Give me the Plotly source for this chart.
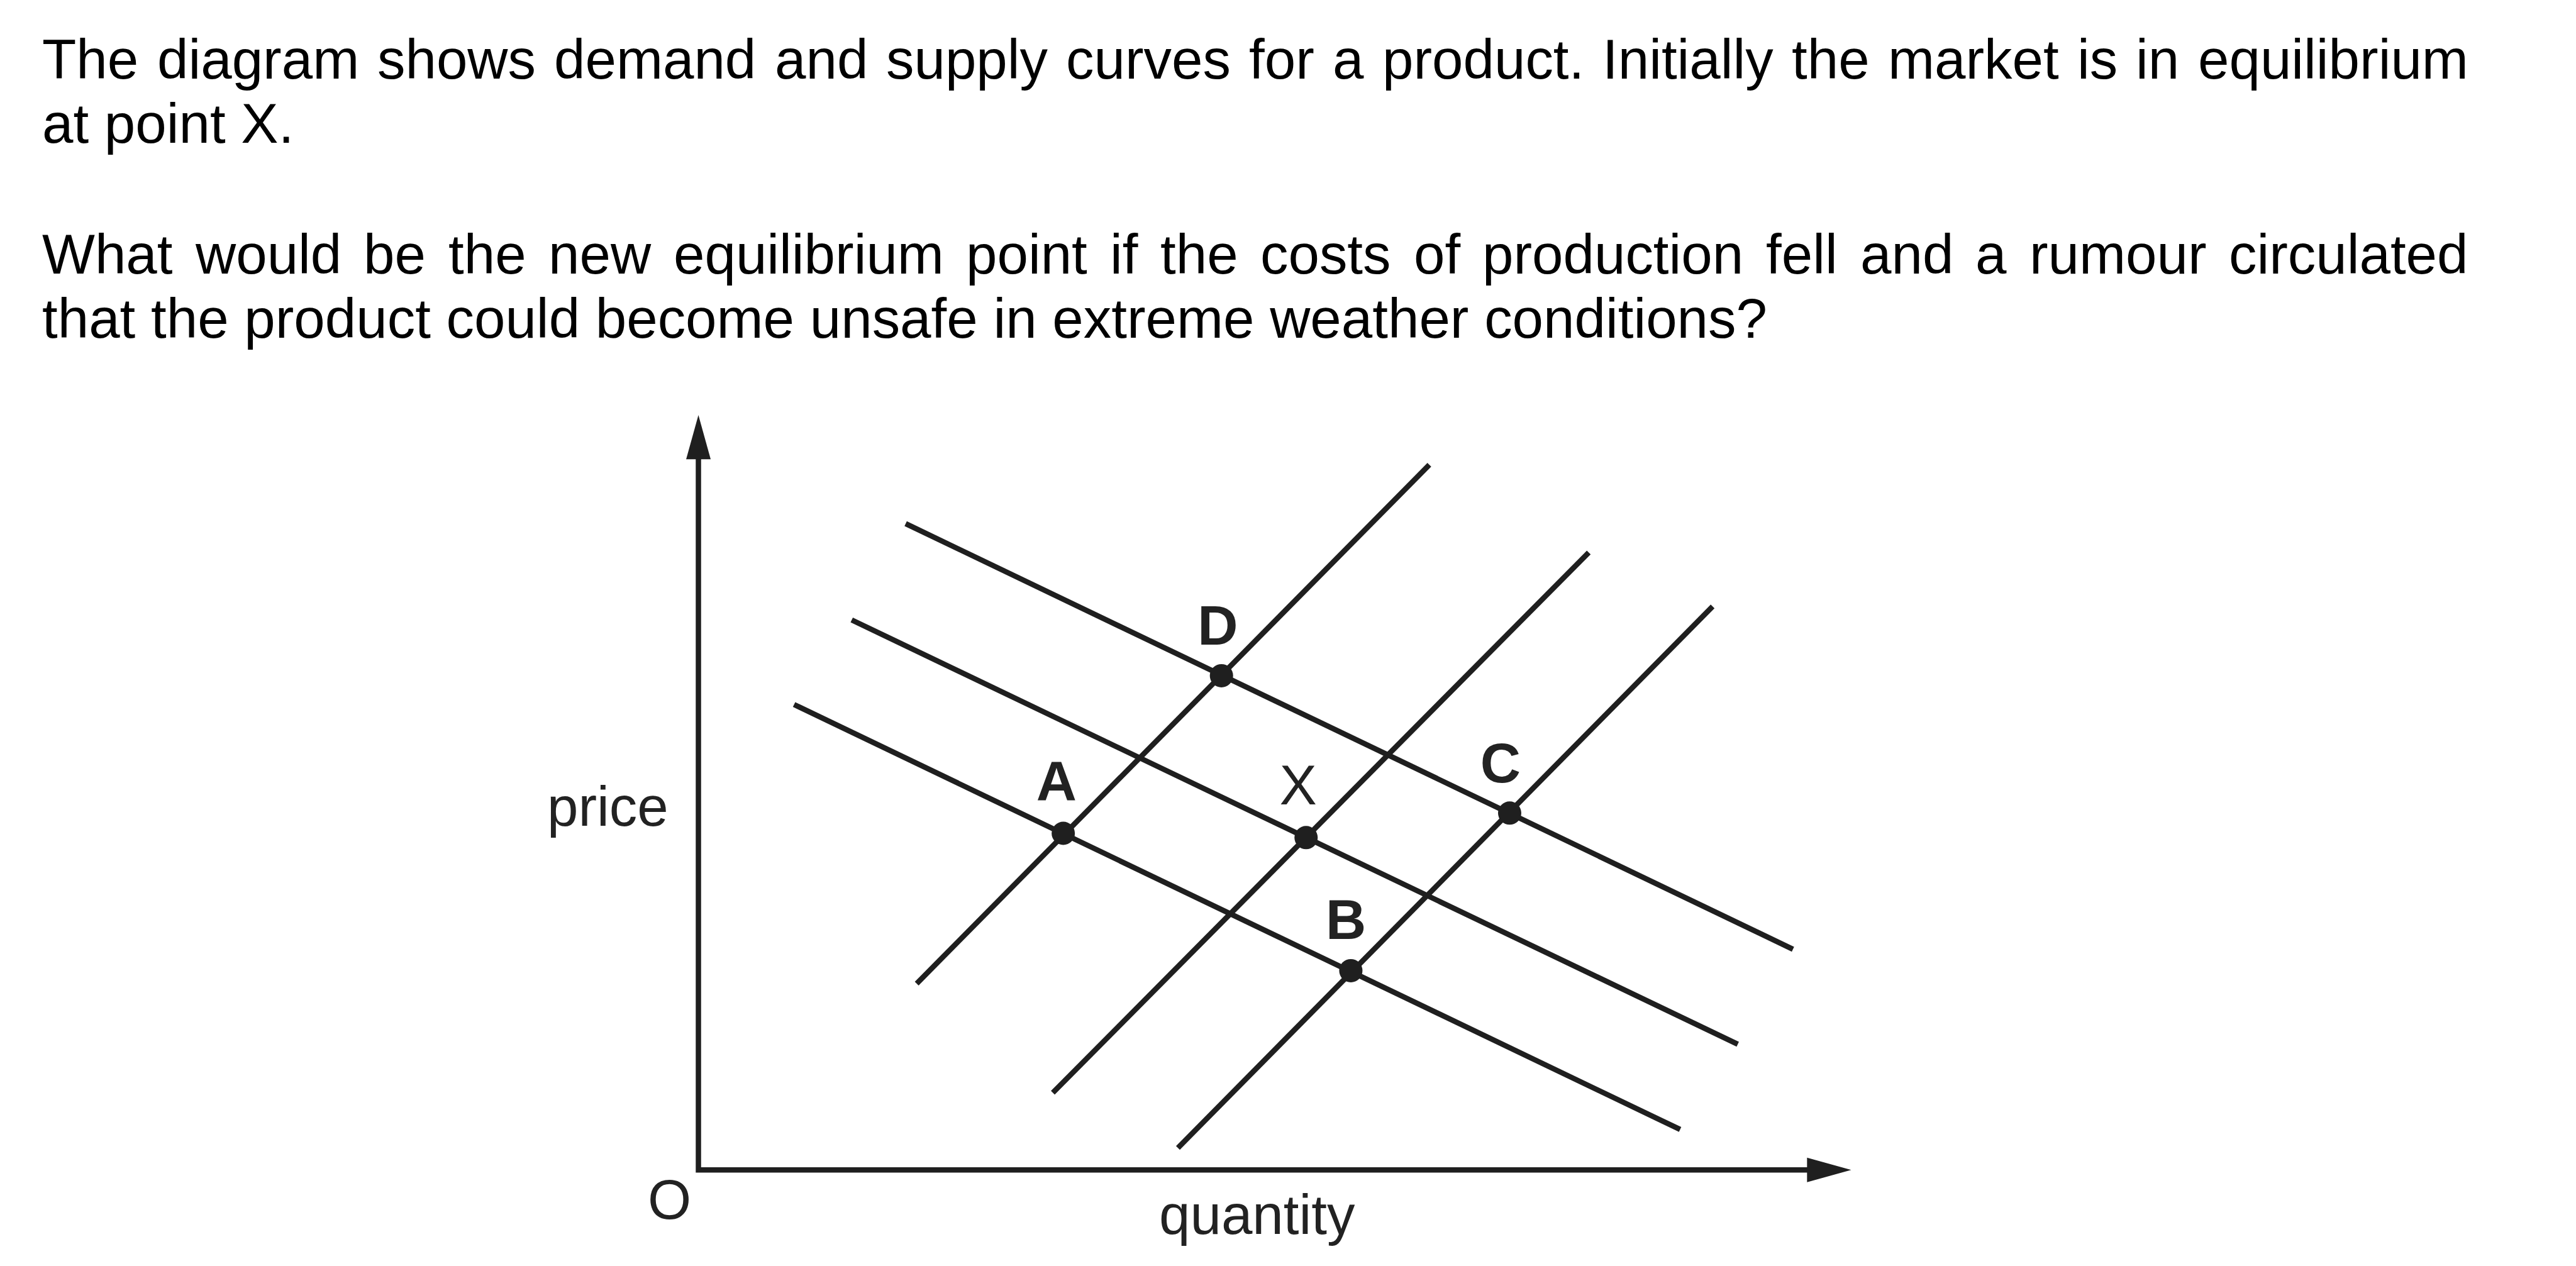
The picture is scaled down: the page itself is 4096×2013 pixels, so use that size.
import plotly.graph_objects as go

# ---------------- data (quantity / price units, origin at the axes corner) ----------------
demand_q = [[33.8, 178.5], [25.0, 169.5], [15.6, 160.1]]
demand_p = [[105.4, 36.0], [89.7, 20.5], [75.9, 6.6]]
supply_q = [[35.6, 119.2], [57.8, 145.2], [78.2, 165.4]]
supply_p = [[30.4, 115.0], [12.6, 100.7], [3.6, 91.9]]

point_labels = ["A", "D", "X", "B", "C"]
point_q = [59.5, 85.3, 99.1, 106.4, 132.3]
point_p = [54.9, 80.6, 54.2, 32.5, 58.2]
label_q = [58.4, 84.7, 97.8, 105.6, 130.8]
label_p = [62.5, 88.0, 61.85, 40.0, 65.5]
label_bold = [True, True, False, True, True]

axis_q_max = 188.0
axis_p_max = 123.1

question_lines = [
    "The diagram shows demand and supply curves for a product. Initially the market is in equilibrium",
    "at point X.",
    "What would be the new equilibrium point if the costs of production fell and a rumour circulated",
    "that the product could become unsafe in extreme weather conditions?",
]
question_justified = [True, False, True, False]

# ---------------- geometry / style ----------------
W, H = 4096, 2013
S = 0.975
K = 10 * S                      # px per data unit
X0, Y0 = 1139 * S, 1908 * S     # origin pixel position
FS = 91.2 * S
FONT = "Liberation Sans, Arial, sans-serif"
LINE_COL = "#1f1f1f"
LW = 8.5
AXW = 8.5

xr = [-X0 / K, (W - X0) / K]
yr = [-(H - Y0) / K, Y0 / K]

fig = go.Figure()

# demand & supply curves
for qs, ps in zip(demand_q + supply_q, demand_p + supply_p):
    fig.add_trace(go.Scatter(x=qs, y=ps, mode="lines",
                             line=dict(color=LINE_COL, width=LW),
                             hoverinfo="skip", showlegend=False))

# axes (lines + arrowheads)
head_len, head_half = 7.2, 2.0
fig.add_trace(go.Scatter(x=[0, 0, axis_q_max - head_len + 0.5],
                         y=[axis_p_max - head_len + 0.5, 0, 0], mode="lines",
                         line=dict(color=LINE_COL, width=AXW),
                         hoverinfo="skip", showlegend=False))
fig.add_shape(type="path", xref="x", yref="y",
              path=f"M {-head_half},{axis_p_max - head_len} L 0,{axis_p_max} L {head_half},{axis_p_max - head_len} Z",
              fillcolor=LINE_COL, line=dict(width=0))
fig.add_shape(type="path", xref="x", yref="y",
              path=f"M {axis_q_max - head_len},{-head_half} L {axis_q_max},0 L {axis_q_max - head_len},{head_half} Z",
              fillcolor=LINE_COL, line=dict(width=0))

# equilibrium points
fig.add_trace(go.Scatter(x=point_q, y=point_p, mode="markers",
                         marker=dict(size=37, color=LINE_COL, line=dict(width=0)),
                         hoverinfo="skip", showlegend=False))

# point labels
fig.add_trace(go.Scatter(x=label_q, y=label_p, mode="text",
                         text=[f"<b>{t}</b>" if b else t for t, b in zip(point_labels, label_bold)],
                         textposition="middle center",
                         textfont=dict(family=FONT, size=FS, color="#222222"),
                         hoverinfo="skip", showlegend=False))

# axis labels
def add_label(text, q, p, xanchor):
    fig.add_annotation(x=q, y=p, xref="x", yref="y", text=text, showarrow=False,
                       xanchor=xanchor, yanchor="middle", borderpad=0, borderwidth=0,
                       font=dict(family=FONT, size=FS, color="#222222"))

add_label("price", -4.9, 59.3, "right")
add_label("O", -4.7, -4.86, "center")
add_label("quantity", 91.1, -7.26, "center")

# ---------------- question text ----------------
ARIAL = {
    ' ': 278, 'a': 556, 'b': 556, 'c': 500, 'd': 556, 'e': 556, 'f': 278, 'g': 556, 'h': 556,
    'i': 222, 'j': 222, 'k': 500, 'l': 222, 'm': 833, 'n': 556, 'o': 556, 'p': 556, 'q': 556,
    'r': 333, 's': 500, 't': 278, 'u': 556, 'v': 500, 'w': 722, 'x': 500, 'y': 500, 'z': 500,
    'I': 278, 'T': 611, 'W': 944, 'X': 667, '.': 278, '?': 556, ',': 278,
}

def text_w(s):
    return sum(ARIAL.get(ch, 556) for ch in s) / 1000.0 * FS

baselines = [129, 233, 446, 551]
left_px = 69 * S
right_px = 4025 * S
for line, base, just in zip(question_lines, baselines, question_justified):
    cy = base * S - 0.3465 * FS
    if not just:
        fig.add_annotation(x=left_px / W, y=1 - cy / H, xref="paper", yref="paper",
                           text=line, showarrow=False, xanchor="left", yanchor="middle",
                           borderpad=0, borderwidth=0,
                           font=dict(family=FONT, size=FS, color="#000000"))
        continue
    words = line.split(" ")
    ww = [text_w(w) for w in words]
    gap = (right_px - left_px - sum(ww)) / (len(words) - 1)
    x = left_px
    for w, wdt in zip(words, ww):
        fig.add_annotation(x=x / W, y=1 - cy / H, xref="paper", yref="paper",
                           text=w, showarrow=False, xanchor="left", yanchor="middle",
                           borderpad=0, borderwidth=0,
                           font=dict(family=FONT, size=FS, color="#000000"))
        x += wdt + gap

fig.update_layout(
    width=W, height=H, autosize=False,
    margin=dict(l=0, r=0, t=0, b=0, pad=0),
    paper_bgcolor="white", plot_bgcolor="white",
    xaxis=dict(range=xr, visible=False, fixedrange=True),
    yaxis=dict(range=yr, visible=False, fixedrange=True),
    showlegend=False,
)

fig.write_html("out.html", include_plotlyjs=True, config={"displayModeBar": False},
               post_script="document.body.style.margin='0';document.body.style.overflow='hidden';")
